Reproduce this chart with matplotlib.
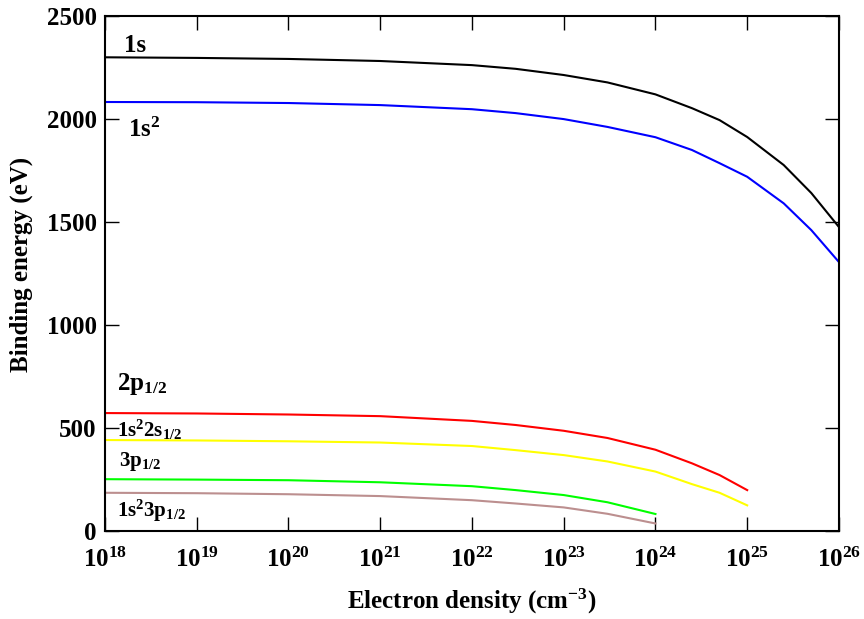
import matplotlib
matplotlib.use('Agg')
import matplotlib.pyplot as plt
from matplotlib.ticker import FixedLocator, NullLocator, MultipleLocator

plt.rcParams['font.family'] = 'Liberation Serif'
plt.rcParams['font.weight'] = 'bold'
plt.rcParams['mathtext.fontset'] = 'custom'
plt.rcParams['mathtext.rm'] = 'Liberation Serif:bold'
plt.rcParams['mathtext.it'] = 'Liberation Serif:bold'
plt.rcParams['mathtext.bf'] = 'Liberation Serif:bold'

# data
dens_k = [1e18, 1e19, 1e20, 1e21, 1e22, 3e22, 1e23, 3e23, 1e24,
          2.5e24, 5e24, 1e25, 2.5e25, 5e25, 1e26]
e_1s = [2300, 2297, 2292, 2282, 2262, 2244, 2214, 2178, 2120,
        2053, 1995, 1913, 1777, 1641, 1476]
e_1s2 = [2083, 2082, 2078, 2068, 2048, 2029, 2000, 1962, 1912,
         1850, 1786, 1720, 1591, 1461, 1306]

dens_l = [1e18, 1e19, 1e20, 1e21, 1e22, 3e22, 1e23, 3e23, 1e24, 2.5e24, 5e24, 1e25]
e_2p = [573, 571, 566, 558, 535, 515, 487, 452, 395, 329, 272, 199]
e_1s2_2s = [442, 440, 436, 430, 413, 393, 369, 338, 289, 228, 186, 125]

dens_m = [1e18, 1e19, 1e20, 1e21, 1e22, 3e22, 1e23, 3e23, 1e24]
e_3p = [252, 250, 247, 237, 218, 199, 175, 140, 83]
e_1s2_3p = [186, 184, 179, 170, 150, 134, 115, 84, 37]

x_ticks = [1e18, 1e19, 1e20, 1e21, 1e22, 1e23, 1e24, 1e25, 1e26]

series = [
    (dens_k, e_1s, 'black'),
    (dens_k, e_1s2, '#0000ff'),
    (dens_l, e_2p, '#ff0000'),
    (dens_l, e_1s2_2s, '#ffff00'),
    (dens_m, e_3p, '#00ff00'),
    (dens_m, e_1s2_3p, '#bc8f8f'),
]

fig = plt.figure(figsize=(8.64, 6.19), dpi=100)
ax = fig.add_axes([0.1215, 0.142, 0.8495, 0.832])

for x, y, c in series:
    ax.plot(x, y, color=c, lw=1.5)

ax.set_xscale('log')
ax.set_xlim(1e18, 1e26)
ax.set_ylim(0, 2500)
ax.xaxis.set_major_locator(FixedLocator(x_ticks))
ax.xaxis.set_minor_locator(NullLocator())
ax.yaxis.set_major_locator(MultipleLocator(500))

ax.tick_params(direction='in', length=10, width=1, top=True, right=True,
               labelsize=18, pad=6)
ax.tick_params(axis='x', pad=12)
for sp in ax.spines.values():
    sp.set_linewidth(1.5)

ax.set_xlabel('Electron density (cm$^{-3}$)', fontsize=18, fontweight='bold')
ax.set_ylabel('Binding energy (eV)', fontsize=18, fontweight='bold')
ax.xaxis.set_label_coords(0.5, -0.108)
ax.yaxis.set_label_coords(-0.098, 0.518)

# curve labels
ax.text(0.026, 0.930, '1s', transform=ax.transAxes, fontsize=18)
ax.text(0.031, 0.765, '1s$^2$', transform=ax.transAxes, fontsize=18)
ax.text(0.016, 0.274, '2p$_{1/2}$', transform=ax.transAxes, fontsize=18)
ax.text(0.016, 0.183, '1s$^2$2s$_{1/2}$', transform=ax.transAxes, fontsize=15)
ax.text(0.019, 0.126, '3p$_{1/2}$', transform=ax.transAxes, fontsize=15)
ax.text(0.016, 0.027, '1s$^2$3p$_{1/2}$', transform=ax.transAxes, fontsize=15)

fig.savefig('out.png', dpi=100)
